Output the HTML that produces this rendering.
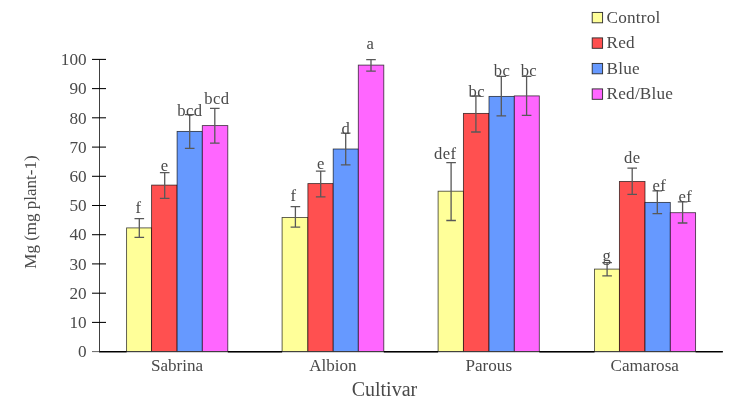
<!DOCTYPE html>
<html><head><meta charset="utf-8"><title>Chart</title>
<style>html,body{margin:0;padding:0;background:#fff}svg{display:block}</style></head>
<body>
<svg width="744" height="407" viewBox="0 0 744 407" font-family="'Liberation Serif', serif" fill="#4a4a4a">
<rect width="744" height="407" fill="#fff"/>
<rect x="126.6" y="227.9" width="25.0" height="123.7" fill="#ffff99" stroke="#000" stroke-opacity="0.72" stroke-width="0.85"/>
<rect x="151.6" y="185.1" width="25.5" height="166.5" fill="#ff5050" stroke="#000" stroke-opacity="0.72" stroke-width="0.85"/>
<rect x="177.1" y="131.4" width="25.2" height="220.2" fill="#6699ff" stroke="#000" stroke-opacity="0.72" stroke-width="0.85"/>
<rect x="202.3" y="125.6" width="25.5" height="226.0" fill="#ff66ff" stroke="#000" stroke-opacity="0.72" stroke-width="0.85"/>
<rect x="282.1" y="217.5" width="25.8" height="134.1" fill="#ffff99" stroke="#000" stroke-opacity="0.72" stroke-width="0.85"/>
<rect x="307.9" y="183.6" width="25.3" height="168.0" fill="#ff5050" stroke="#000" stroke-opacity="0.72" stroke-width="0.85"/>
<rect x="333.2" y="149.0" width="25.1" height="202.6" fill="#6699ff" stroke="#000" stroke-opacity="0.72" stroke-width="0.85"/>
<rect x="358.3" y="65.1" width="25.5" height="286.5" fill="#ff66ff" stroke="#000" stroke-opacity="0.72" stroke-width="0.85"/>
<rect x="438.1" y="191.2" width="25.3" height="160.4" fill="#ffff99" stroke="#000" stroke-opacity="0.72" stroke-width="0.85"/>
<rect x="463.4" y="113.4" width="25.6" height="238.2" fill="#ff5050" stroke="#000" stroke-opacity="0.72" stroke-width="0.85"/>
<rect x="489.0" y="96.4" width="25.3" height="255.2" fill="#6699ff" stroke="#000" stroke-opacity="0.72" stroke-width="0.85"/>
<rect x="514.3" y="95.9" width="25.0" height="255.7" fill="#ff66ff" stroke="#000" stroke-opacity="0.72" stroke-width="0.85"/>
<rect x="594.5" y="269.1" width="24.9" height="82.5" fill="#ffff99" stroke="#000" stroke-opacity="0.72" stroke-width="0.85"/>
<rect x="619.4" y="181.5" width="25.6" height="170.1" fill="#ff5050" stroke="#000" stroke-opacity="0.72" stroke-width="0.85"/>
<rect x="645.0" y="202.4" width="25.3" height="149.2" fill="#6699ff" stroke="#000" stroke-opacity="0.72" stroke-width="0.85"/>
<rect x="670.3" y="212.7" width="25.3" height="138.9" fill="#ff66ff" stroke="#000" stroke-opacity="0.72" stroke-width="0.85"/>
<g stroke="#000" stroke-width="1.05" fill="none">
<line x1="99.5" y1="59.4" x2="99.5" y2="351.6" stroke="#2a2a2a" stroke-width="0.9"/>
<line x1="99.0" y1="351.7" x2="722.8" y2="351.7" stroke="#3a3a3a" stroke-width="1"/>
<line x1="99.0" y1="351.7" x2="126.6" y2="351.7" stroke-width="1.4"/>
<line x1="227.8" y1="351.7" x2="282.1" y2="351.7" stroke-width="1.4"/>
<line x1="383.8" y1="351.7" x2="438.1" y2="351.7" stroke-width="1.4"/>
<line x1="539.3" y1="351.7" x2="594.5" y2="351.7" stroke-width="1.4"/>
<line x1="695.6" y1="351.7" x2="722.8" y2="351.7" stroke-width="1.4"/>
<line x1="92" y1="351.6" x2="99.5" y2="351.6" stroke="#555" stroke-width="0.9"/>
<line x1="92" y1="322.4" x2="106" y2="322.4"/>
<line x1="92" y1="293.2" x2="106" y2="293.2"/>
<line x1="92" y1="263.9" x2="106" y2="263.9"/>
<line x1="92" y1="234.7" x2="106" y2="234.7"/>
<line x1="92" y1="205.5" x2="106" y2="205.5"/>
<line x1="92" y1="176.3" x2="106" y2="176.3"/>
<line x1="92" y1="147.1" x2="106" y2="147.1"/>
<line x1="92" y1="117.8" x2="106" y2="117.8"/>
<line x1="92" y1="88.6" x2="106" y2="88.6"/>
<line x1="92" y1="59.4" x2="106" y2="59.4"/>
</g>
<g stroke="#585858" stroke-width="1.3" fill="none">
<path d="M139.3 218.6V237.4M134.5 218.6h9.6M134.5 237.4h9.6"/>
<path d="M164.7 172.6V198.3M159.9 172.6h9.6M159.9 198.3h9.6"/>
<path d="M189.7 114.6V148.4M184.9 114.6h9.6M184.9 148.4h9.6"/>
<path d="M214.8 108.3V143.2M210.0 108.3h9.6M210.0 143.2h9.6"/>
<path d="M295.4 206.7V227.2M290.6 206.7h9.6M290.6 227.2h9.6"/>
<path d="M320.7 171.1V196.9M315.9 171.1h9.6M315.9 196.9h9.6"/>
<path d="M345.7 133.2V164.8M340.9 133.2h9.6M340.9 164.8h9.6"/>
<path d="M371.0 59.6V71.1M366.2 59.6h9.6M366.2 71.1h9.6"/>
<path d="M451.1 162.6V220.5M446.3 162.6h9.6M446.3 220.5h9.6"/>
<path d="M475.9 96.0V132.0M471.1 96.0h9.6M471.1 132.0h9.6"/>
<path d="M501.3 76.3V115.9M496.5 76.3h9.6M496.5 115.9h9.6"/>
<path d="M526.6 76.3V115.4M521.8 76.3h9.6M521.8 115.4h9.6"/>
<path d="M607.1 262.6V275.9M602.3 262.6h9.6M602.3 275.9h9.6"/>
<path d="M632.2 168.2V194.3M627.4 168.2h9.6M627.4 194.3h9.6"/>
<path d="M657.3 190.9V213.7M652.5 190.9h9.6M652.5 213.7h9.6"/>
<path d="M682.6 201.9V223.0M677.8 201.9h9.6M677.8 223.0h9.6"/>
</g>
<g font-size="17.2" text-anchor="end">
<text x="86.6" y="357.3">0</text>
<text x="86.6" y="328.1">10</text>
<text x="86.6" y="298.9">20</text>
<text x="86.6" y="269.6">30</text>
<text x="86.6" y="240.4">40</text>
<text x="86.6" y="211.2">50</text>
<text x="86.6" y="182.0">60</text>
<text x="86.6" y="152.8">70</text>
<text x="86.6" y="123.5">80</text>
<text x="86.6" y="94.3">90</text>
<text x="86.6" y="65.1">100</text>
</g>
<g font-size="16.6" letter-spacing="0.4">
<text x="135.38" y="213.4">f</text>
<text x="160.75" y="171.4">e</text>
<text x="177.35" y="115.5">bcd</text>
<text x="204.25" y="103.5">bcd</text>
<text x="290.57" y="201.4">f</text>
<text x="316.95" y="169.2">e</text>
<text x="341.43" y="134.0">d</text>
<text x="366.62" y="49.1">a</text>
<text x="433.95" y="159.2">def</text>
<text x="468.45" y="96.6">bc</text>
<text x="493.85" y="75.9">bc</text>
<text x="520.65" y="75.9">bc</text>
<text x="602.62" y="260.6">g</text>
<text x="624.10" y="163.0">de</text>
<text x="652.40" y="190.5">ef</text>
<text x="678.40" y="201.8">ef</text>
</g>
<g font-size="17.1" text-anchor="middle">
<text x="177.0" y="371">Sabrina</text>
<text x="332.9" y="371">Albion</text>
<text x="488.8" y="371">Parous</text>
<text x="644.7" y="371">Camarosa</text>
</g>
<text x="384.4" y="396" font-size="20" text-anchor="middle">Cultivar</text>
<text transform="translate(35.7 212) rotate(-90)" font-size="17" text-anchor="middle">Mg (mg plant-1)</text>
<rect x="592.2" y="12.4" width="10.4" height="10.4" fill="#ffff99" stroke="#2a2a2a" stroke-width="0.9"/>
<text x="606.6" y="22.8" font-size="17.2" letter-spacing="0.2">Control</text>
<rect x="592.2" y="37.9" width="10.4" height="10.4" fill="#ff5050" stroke="#2a2a2a" stroke-width="0.9"/>
<text x="606.6" y="48.3" font-size="17.2" letter-spacing="0.2">Red</text>
<rect x="592.2" y="63.4" width="10.4" height="10.4" fill="#6699ff" stroke="#2a2a2a" stroke-width="0.9"/>
<text x="606.6" y="73.8" font-size="17.2" letter-spacing="0.2">Blue</text>
<rect x="592.2" y="88.9" width="10.4" height="10.4" fill="#ff66ff" stroke="#2a2a2a" stroke-width="0.9"/>
<text x="606.6" y="99.3" font-size="17.2" letter-spacing="0.2">Red/Blue</text>
</svg>
</body></html>
